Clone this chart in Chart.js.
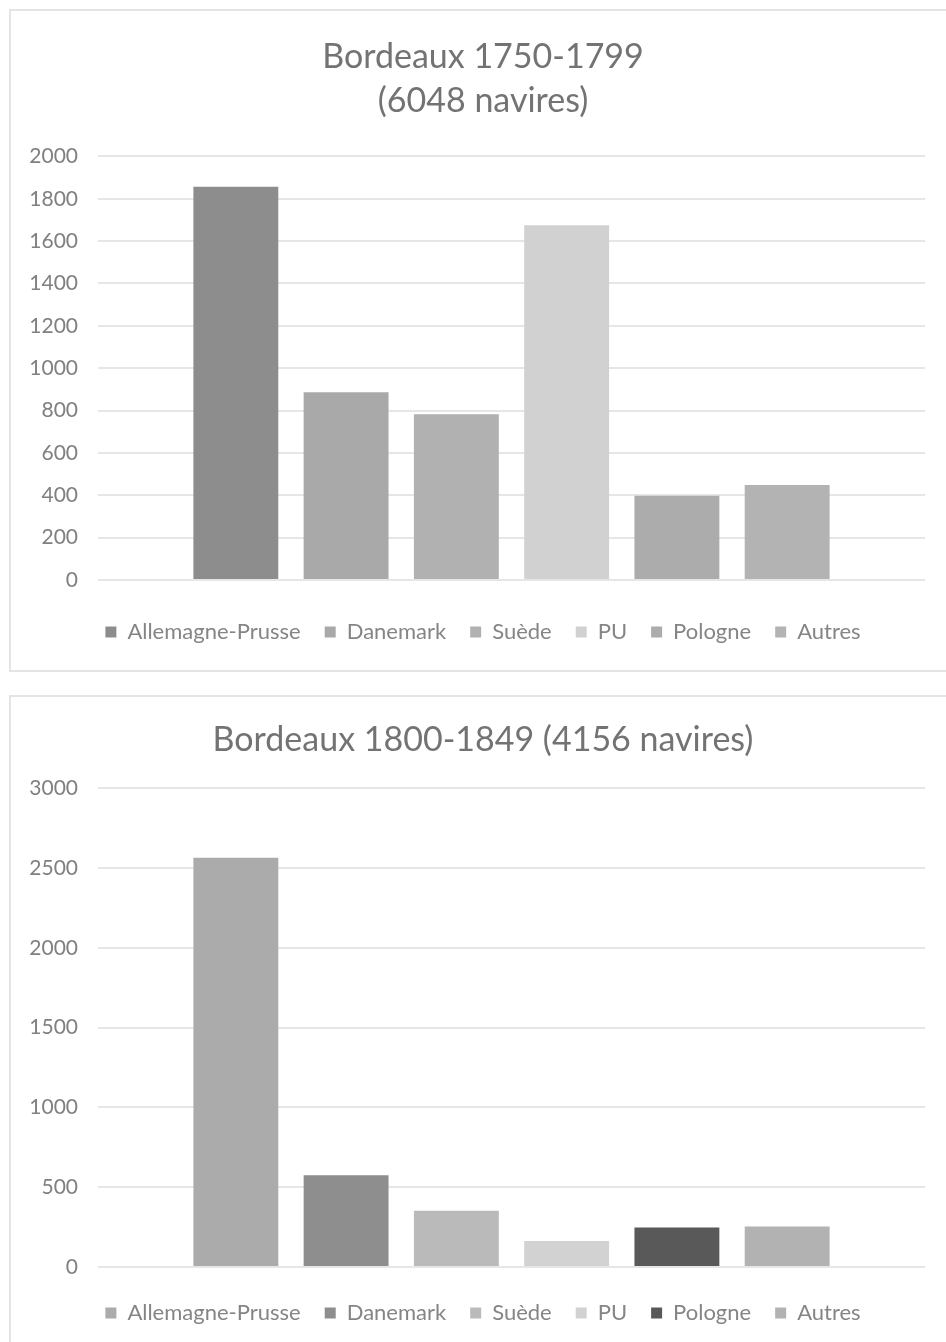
<!DOCTYPE html>
<html lang="fr">
<head>
<meta charset="utf-8">
<title>Bordeaux navires</title>
<script src="https://cdn.jsdelivr.net/npm/chart.js@4"></script>
<style>
    html, body { margin: 0; padding: 0; background: #fff; }
    body { width: 946px; height: 1342px; position: relative; overflow: hidden; }
    .frame { position: absolute; border: 2px solid #e4e4e4; background: #fff; }
    #frame1 { left: 9px; top: 9px; width: 960px; height: 659px; }
    #frame2 { left: 9px; top: 695px; width: 960px; height: 700px; }
    .holder { position: absolute; left: 0; width: 946px; }
    #holder1 { top: 0; height: 680px; }
    #holder2 { top: 680px; height: 662px; }
</style>
</head>
<body>
<div class="frame" id="frame1"></div>
<div class="frame" id="frame2"></div>
<div class="holder" id="holder1"><canvas id="chart1750" width="946" height="680"></canvas></div>
<div class="holder" id="holder2"><canvas id="chart1800" width="946" height="662"></canvas></div>
<script>
const countries = ['Allemagne-Prusse', 'Danemark', 'Suède', 'PU', 'Pologne', 'Autres'];
const ships1750 = [1857, 887, 783, 1675, 398, 448];
const ships1800 = [2565, 575, 352, 163, 248, 253];
const title1750 = ['Bordeaux 1750-1799', '(6048 navires)'];
const title1800 = 'Bordeaux 1800-1849 (4156 navires)';
const colors1750 = ['#8d8d8d', '#a9a9a9', '#b1b1b1', '#d1d1d1', '#acacac', '#b3b3b3'];
const colors1800 = ['#ababab', '#8e8e8e', '#bababa', '#d2d2d2', '#595959', '#b2b2b2'];

const FONT = 'Lato, "Open Sans", sans-serif';

// lay: title padding, gap under the plot, bottom padding
function makeChart(id, values, colors, title, yMax, yStep, lay) {
    const ctx = document.getElementById(id).getContext('2d');
    return new Chart(ctx, {
        type: 'bar',
        data: {
            labels: [''],
            datasets: countries.map((name, i) => ({
                label: name,
                data: [values[i]],
                backgroundColor: colors[i],
                borderWidth: 0,
                categoryPercentage: 0.8,
                barPercentage: 0.77
            }))
        },
        options: {
            responsive: false,
            animation: false,
            layout: {
                padding: { top: 0, right: 0, bottom: lay.bottom, left: 20 }
            },
            plugins: {
                title: {
                    display: true,
                    text: title,
                    color: '#737373',
                    font: { family: FONT, size: 34, weight: 'normal', lineHeight: 1.3 },
                    padding: lay.title
                },
                legend: {
                    position: 'bottom',
                    labels: {
                        boxWidth: 11,
                        boxHeight: 11,
                        padding: 24,
                        color: '#858585',
                        font: { family: FONT, size: 22 }
                    }
                },
                tooltip: { enabled: false }
            },
            scales: {
                x: {
                    display: true,
                    afterFit: (scale) => { scale.height = lay.gap; },
                    border: { display: false },
                    grid: { display: false },
                    ticks: { display: false }
                },
                y: {
                    min: 0,
                    max: yMax,
                    afterFit: (scale) => { scale.width = 78; },
                    border: { display: false },
                    grid: {
                        color: '#e6e6e6',
                        lineWidth: 2,
                        drawTicks: false
                    },
                    ticks: {
                        stepSize: yStep,
                        padding: 20,
                        color: '#808080',
                        font: { family: FONT, size: 21 },
                        callback: (v) => String(v)
                    }
                },
                // empty margin on the right so the plot stops short of the frame
                spacer: {
                    type: 'linear',
                    position: 'right',
                    display: true,
                    afterFit: (scale) => { scale.width = 21; },
                    border: { display: false },
                    grid: { display: false },
                    ticks: { display: false }
                }
            }
        }
    });
}

makeChart('chart1750', ships1750, colors1750, title1750, 2000, 200,
    { title: { top: 35, bottom: 33 }, gap: 17, bottom: 27 });
makeChart('chart1800', ships1800, colors1800, title1800, 3000, 500,
    { title: { top: 38, bottom: 26 }, gap: 11, bottom: 8 });
</script>
</body>
</html>
